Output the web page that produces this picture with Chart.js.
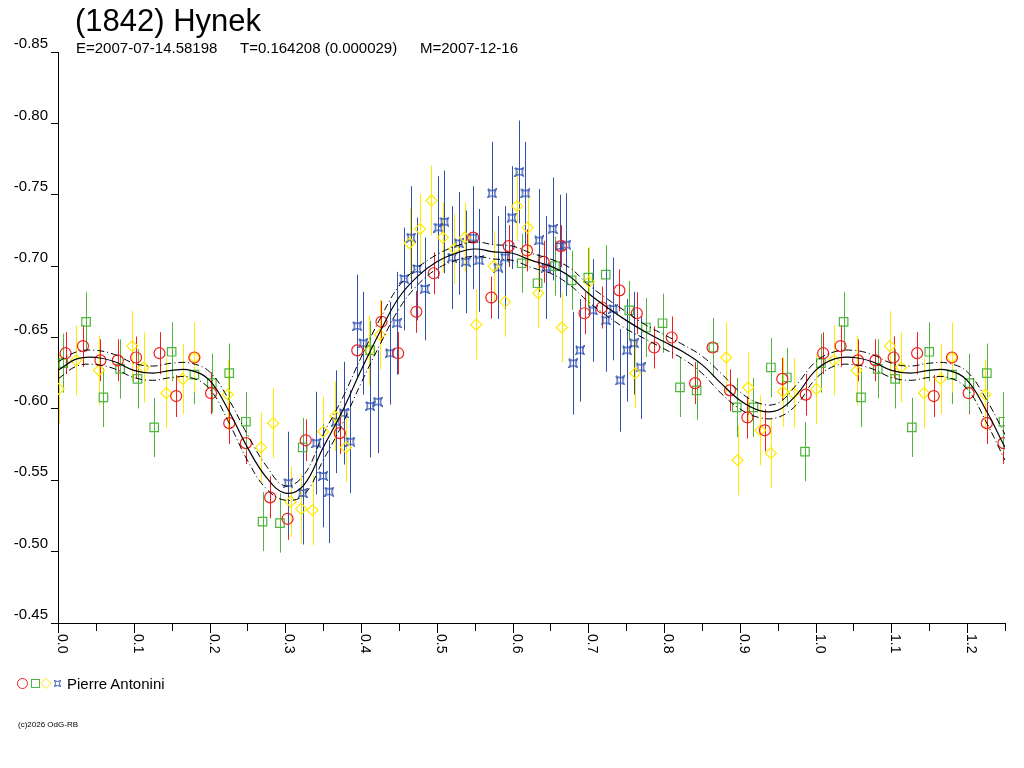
<!DOCTYPE html>
<html>
<head>
<meta charset="utf-8">
<title>(1842) Hynek</title>
<script src="https://cdn.jsdelivr.net/npm/chart.js@4.4.1/dist/chart.umd.min.js"></script>
<style>
body { margin: 0; background: #fff; }
#wrap { position: relative; width: 1024px; height: 768px; font-family: "Liberation Sans", Arial, sans-serif; color: #000; }
#wrap canvas { position: absolute; left: 0; top: 0; }
.t { position: absolute; white-space: pre; line-height: 1; }
</style>
</head>
<body>
<div id="wrap">
  <canvas id="lc" width="1024" height="768"></canvas>
  <div class="t" style="left:75px;top:5px;font-size:31px">(1842) Hynek</div>
  <div class="t" style="left:76px;top:40px;font-size:15px">E=2007-07-14.58198</div>
  <div class="t" style="left:240px;top:40px;font-size:15px">T=0.164208 (0.000029)</div>
  <div class="t" style="left:420px;top:40px;font-size:15px">M=2007-12-16</div>
  <div class="t" style="left:67px;top:676px;font-size:15px">Pierre Antonini</div>
  <div class="t" style="left:18px;top:721px;font-size:8px">(c)2026 OdG-RB</div>
</div>
<script>
// axis ticks
var yTickValues = [-0.85, -0.80, -0.75, -0.70, -0.65, -0.60, -0.55, -0.50, -0.45];
var xTickValues = [0, 0.05, 0.1, 0.15, 0.2, 0.25, 0.3, 0.35, 0.4, 0.45, 0.5, 0.55, 0.6, 0.65,
                   0.7, 0.75, 0.8, 0.85, 0.9, 0.95, 1.0, 1.05, 1.1, 1.15, 1.2, 1.25];
var xTickLabels = ['0.0', '', '0.1', '', '0.2', '', '0.3', '', '0.4', '', '0.5', '', '0.6', '',
                   '0.7', '', '0.8', '', '0.9', '', '1.0', '', '1.1', '', '1.2', ''];

// fourier fit and its band, phase 0..1
var curvePhase = [0, 0.025, 0.05, 0.075, 0.1, 0.125, 0.15, 0.175, 0.2, 0.225, 0.25, 0.275, 0.3, 0.325,
                  0.35, 0.375, 0.4, 0.425, 0.45, 0.475, 0.5, 0.525, 0.55, 0.575, 0.6, 0.625, 0.65,
                  0.675, 0.7, 0.725, 0.75, 0.775, 0.8, 0.825, 0.85, 0.875, 0.9, 0.925, 0.95, 0.975, 1.0];
var curveMag = [-0.627, -0.635, -0.636, -0.633, -0.627, -0.625, -0.627, -0.627, -0.620, -0.599, -0.573,
                -0.552, -0.541, -0.547, -0.573, -0.598, -0.627, -0.654, -0.678, -0.693, -0.703, -0.709,
                -0.712, -0.710, -0.709, -0.704, -0.700, -0.693, -0.681, -0.671, -0.662, -0.654, -0.647,
                -0.640, -0.631, -0.618, -0.606, -0.599, -0.599, -0.610, -0.627];
var upperMag = [-0.633, -0.640, -0.641, -0.638, -0.632, -0.630, -0.632, -0.632, -0.626, -0.607, -0.582,
                -0.560, -0.546, -0.554, -0.582, -0.607, -0.636, -0.663, -0.686, -0.699, -0.708, -0.714,
                -0.717, -0.715, -0.714, -0.709, -0.705, -0.699, -0.687, -0.677, -0.668, -0.659, -0.652,
                -0.645, -0.637, -0.625, -0.612, -0.604, -0.604, -0.617, -0.633];
var lowerMag = [-0.621, -0.630, -0.631, -0.628, -0.622, -0.620, -0.622, -0.622, -0.614, -0.591, -0.564,
                -0.544, -0.536, -0.540, -0.564, -0.589, -0.618, -0.645, -0.670, -0.687, -0.698, -0.704,
                -0.707, -0.705, -0.704, -0.699, -0.695, -0.687, -0.675, -0.665, -0.656, -0.649, -0.642,
                -0.635, -0.625, -0.611, -0.600, -0.594, -0.594, -0.603, -0.621];

// observations (4 sessions), phase / magnitude / error
var redPhase = [0.010, 0.033, 0.056, 0.079, 0.103, 0.134, 0.156, 0.180, 0.202, 0.226, 0.248, 0.280, 0.303,
                0.327, 0.372, 0.395, 0.427, 0.449, 0.473, 0.496, 0.548, 0.572, 0.595, 0.619, 0.641, 0.664,
                0.695, 0.718, 0.741, 0.764, 0.787, 0.810, 0.841, 0.864, 0.887, 0.910, 0.933, 0.956, 0.987];
var redMag = [-0.639, -0.644, -0.634, -0.634, -0.636, -0.639, -0.609, -0.636, -0.611, -0.590, -0.576, -0.538,
              -0.523, -0.578, -0.583, -0.641, -0.661, -0.639, -0.668, -0.695, -0.720, -0.678, -0.714, -0.711,
              -0.703, -0.714, -0.667, -0.671, -0.683, -0.667, -0.643, -0.650, -0.618, -0.643, -0.613, -0.594,
              -0.585, -0.621, -0.610];
var redErr = 0.0147;

var greenPhase = [0.007, 0.037, 0.060, 0.082, 0.105, 0.127, 0.150, 0.180, 0.203, 0.226, 0.248, 0.270, 0.293,
                  0.323, 0.412, 0.612, 0.633, 0.656, 0.678, 0.700, 0.723, 0.754, 0.776, 0.798, 0.821, 0.843,
                  0.865, 0.896, 0.918, 0.941, 0.962, 0.986];
var greenMag = [-0.632, -0.661, -0.608, -0.628, -0.621, -0.587, -0.640, -0.624, -0.618, -0.625, -0.591, -0.521,
                -0.520, -0.573, -0.641, -0.702, -0.688, -0.700, -0.690, -0.692, -0.694, -0.669, -0.657, -0.660,
                -0.615, -0.613, -0.643, -0.601, -0.601, -0.629, -0.622, -0.570];
var greenErr = 0.0207;

var yellowPhase = [0.001, 0.024, 0.054, 0.098, 0.113, 0.143, 0.165, 0.180, 0.224, 0.268, 0.284, 0.307, 0.321,
                   0.336, 0.350, 0.366, 0.380, 0.411, 0.425, 0.464, 0.478, 0.493, 0.508, 0.523, 0.537, 0.552,
                   0.575, 0.590, 0.606, 0.620, 0.634, 0.665, 0.701, 0.762, 0.882, 0.897, 0.911, 0.927, 0.941,
                   0.957, 0.971];
var yellowMag = [-0.614, -0.634, -0.627, -0.644, -0.629, -0.611, -0.621, -0.636, -0.610, -0.573, -0.590, -0.535,
                 -0.530, -0.529, -0.584, -0.595, -0.573, -0.641, -0.652, -0.716, -0.726, -0.746, -0.720, -0.712,
                 -0.720, -0.659, -0.700, -0.675, -0.742, -0.727, -0.681, -0.657, -0.689, -0.625, -0.636, -0.564,
                 -0.615, -0.585, -0.569, -0.612, -0.611];
var yellowErr = 0.0245;

var bluePhase = [0.304, 0.323, 0.341, 0.350, 0.358, 0.367, 0.377, 0.386, 0.395, 0.403, 0.412, 0.422, 0.438,
                 0.447, 0.457, 0.466, 0.474, 0.484, 0.502, 0.510, 0.520, 0.529, 0.538, 0.548, 0.556, 0.573,
                 0.581, 0.590, 0.599, 0.609, 0.617, 0.635, 0.644, 0.653, 0.662, 0.671, 0.680, 0.689, 0.706,
                 0.723, 0.733, 0.742, 0.751, 0.760, 0.769];
var blueMag = [-0.548, -0.541, -0.576, -0.553, -0.542, -0.591, -0.597, -0.577, -0.658, -0.646, -0.602, -0.605,
               -0.639, -0.660, -0.691, -0.720, -0.698, -0.684, -0.727, -0.731, -0.706, -0.716, -0.703, -0.720,
               -0.704, -0.751, -0.699, -0.706, -0.734, -0.766, -0.751, -0.718, -0.699, -0.726, -0.714, -0.715,
               -0.632, -0.641, -0.669, -0.662, -0.670, -0.620, -0.641, -0.646, -0.629];
var blueErr = 0.036;

var RED = '#f01e1e', GREEN = '#4fb53c', YELLOW = '#ffea00', BLUE = '#2f4fae';
var PHASE_MAX = 1.25;

// phased plot shows phases 1.0..1.25 again
function phased(ph, mg, err) {
    var pts = ph.map(function (p, i) { return { x: p, y: mg[i], e: err }; });
    ph.forEach(function (p, i) {
        if (p > 0 && p + 1 <= PHASE_MAX) pts.push({ x: p + 1, y: mg[i], e: err });
    });
    return pts;
}

function starPath(g, x, y, r) {
    g.beginPath();
    g.moveTo(x - r, y - r);
    g.quadraticCurveTo(x, y - r * 0.3, x + r, y - r);
    g.quadraticCurveTo(x + r * 0.3, y, x + r, y + r);
    g.quadraticCurveTo(x, y + r * 0.3, x - r, y + r);
    g.quadraticCurveTo(x - r * 0.3, y, x - r, y - r);
    g.stroke();
}

function starMarker(color) {
    var c = document.createElement('canvas');
    c.width = 10; c.height = 10;
    var g = c.getContext('2d');
    g.strokeStyle = color; g.lineWidth = 1.2;
    starPath(g, 5, 5, 4.2);
    return c;
}

var errorBars = {
    id: 'errorBars',
    beforeDatasetsDraw: function (chart) {
        var ctx = chart.ctx, xs = chart.scales.x, ys = chart.scales.y, a = chart.chartArea;
        ctx.save();
        ctx.beginPath();
        ctx.rect(a.left, a.top, a.right - a.left, a.bottom - a.top);
        ctx.clip();
        ctx.lineWidth = 1;
        chart.data.datasets.forEach(function (ds) {
            if (!ds.errorBars) return;
            ctx.strokeStyle = ds.borderColor;
            ds.data.forEach(function (pt) {
                var px = Math.round(xs.getPixelForValue(pt.x)) + 0.5;
                ctx.beginPath();
                ctx.moveTo(px, ys.getPixelForValue(pt.y - pt.e));
                ctx.lineTo(px, ys.getPixelForValue(pt.y + pt.e));
                ctx.stroke();
            });
        });
        ctx.restore();
    }
};

// x ticks with labels turned clockwise, plus the legend symbols
var phaseAxis = {
    id: 'phaseAxis',
    afterDraw: function (chart) {
        var ctx = chart.ctx, xs = chart.scales.x, bottom = chart.chartArea.bottom;
        ctx.save();
        ctx.strokeStyle = '#000';
        ctx.fillStyle = '#000';
        ctx.lineWidth = 1;
        ctx.font = '14px "Liberation Sans", Arial, sans-serif';
        xTickValues.forEach(function (v, i) {
            var px = Math.round(xs.getPixelForValue(v)) + 0.5;
            var label = xTickLabels[i];
            ctx.beginPath();
            ctx.moveTo(px, bottom);
            ctx.lineTo(px, bottom + (label ? 10 : 8));
            ctx.stroke();
            if (label) {
                ctx.save();
                ctx.translate(px - 0.5, bottom + 11);
                ctx.rotate(Math.PI / 2);
                ctx.textAlign = 'left';
                ctx.textBaseline = 'alphabetic';
                ctx.fillText(label, 0, 0);
                ctx.restore();
            }
        });

        var ly = 683.5;
        ctx.strokeStyle = RED;
        ctx.beginPath(); ctx.arc(22.5, ly, 5, 0, Math.PI * 2); ctx.stroke();
        ctx.strokeStyle = GREEN;
        ctx.strokeRect(31.5, ly - 4, 8, 8);
        ctx.strokeStyle = YELLOW;
        ctx.beginPath();
        ctx.moveTo(46, ly - 5); ctx.lineTo(51, ly); ctx.lineTo(46, ly + 5); ctx.lineTo(41, ly); ctx.closePath();
        ctx.stroke();
        ctx.strokeStyle = BLUE;
        starPath(ctx, 57.5, ly, 3);
        ctx.restore();
    }
};

var ctx = document.getElementById('lc').getContext('2d');
var lightCurve = new Chart(ctx, {
    type: 'scatter',
    data: {
        datasets: [
            {
                label: 'fit', type: 'line', data: phased(curvePhase, curveMag, 0),
                borderColor: '#000', borderWidth: 1.2, pointRadius: 0, tension: 0.4, fill: false
            },
            {
                label: 'fit-', type: 'line', data: phased(curvePhase, upperMag, 0),
                borderColor: '#000', borderWidth: 1, borderDash: [7, 3, 1, 3], pointRadius: 0, tension: 0.4, fill: false
            },
            {
                label: 'fit+', type: 'line', data: phased(curvePhase, lowerMag, 0),
                borderColor: '#000', borderWidth: 1, borderDash: [7, 3, 1, 3], pointRadius: 0, tension: 0.4, fill: false
            },
            {
                label: 'Pierre Antonini 1', data: phased(redPhase, redMag, redErr), errorBars: true,
                pointStyle: 'circle', pointRadius: 5.5, borderColor: RED, backgroundColor: 'rgba(0,0,0,0)', borderWidth: 1.2
            },
            {
                label: 'Pierre Antonini 2', data: phased(greenPhase, greenMag, greenErr), errorBars: true,
                pointStyle: 'rect', pointRadius: 6, borderColor: GREEN, backgroundColor: 'rgba(0,0,0,0)', borderWidth: 1.2
            },
            {
                label: 'Pierre Antonini 3', data: phased(yellowPhase, yellowMag, yellowErr), errorBars: true,
                pointStyle: 'rectRot', pointRadius: 5.5, borderColor: YELLOW, backgroundColor: 'rgba(0,0,0,0)', borderWidth: 1.2
            },
            {
                label: 'Pierre Antonini 4', data: phased(bluePhase, blueMag, blueErr), errorBars: true,
                pointStyle: starMarker(BLUE), pointRadius: 5, borderColor: BLUE, backgroundColor: 'rgba(0,0,0,0)', borderWidth: 1
            }
        ]
    },
    options: {
        responsive: false,
        animation: false,
        devicePixelRatio: 1,
        layout: { padding: { top: 52, right: 19, bottom: 0, left: 0 } },
        plugins: { legend: { display: false }, tooltip: { enabled: false } },
        scales: {
            x: {
                type: 'linear', min: 0, max: PHASE_MAX,
                afterFit: function (s) { s.height = 145; },
                ticks: { display: false },
                grid: { display: false },
                border: { display: true, color: '#000', width: 1 }
            },
            y: {
                type: 'linear', min: -0.85, max: -0.45, reverse: true,
                afterFit: function (s) { s.width = 58; },
                afterBuildTicks: function (s) { s.ticks = yTickValues.map(function (v) { return { value: v }; }); },
                ticks: {
                    callback: function (v) { return v.toFixed(2); },
                    font: { family: '"Liberation Sans", Arial, sans-serif', size: 15 },
                    color: '#000', padding: 3, labelOffset: -8, autoSkip: false
                },
                grid: { display: true, drawOnChartArea: false, drawTicks: true, tickLength: 7, color: '#000' },
                border: { display: true, color: '#000', width: 1 }
            }
        }
    },
    plugins: [errorBars, phaseAxis]
});
</script>
</body>
</html>
